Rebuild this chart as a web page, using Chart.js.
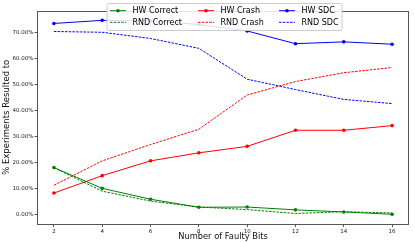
<!DOCTYPE html>
<html>
<head>
<meta charset="utf-8">
<script src="https://cdn.jsdelivr.net/npm/chart.js@4/dist/chart.umd.min.js"></script>
<style>
  html, body { margin: 0; padding: 0; background: #fff; }
  #wrap { width: 415px; height: 242px; }
</style>
</head>
<body>
<div id="wrap"><canvas id="c" width="415" height="242"></canvas></div>
<script>
// number of faulty bits
const bits = [2, 4, 6, 8, 10, 12, 14, 16];
const xTicks = [2, 4, 6, 8, 10, 12, 14, 16];
const yTicks = [0, 10, 20, 30, 40, 50, 60, 70];

// % of experiments
const hwCorrect  = [18.0, 10.0, 5.8, 2.7, 2.8, 1.7, 0.9, 0.0];
const rndCorrect = [18.0, 8.9, 5.1, 2.8, 1.8, 0.3, 1.0, 0.5];
const hwCrash    = [8.2, 14.9, 20.6, 23.7, 26.2, 32.4, 32.4, 34.2];
const rndCrash   = [11.2, 20.6, 26.9, 32.8, 46.0, 51.2, 54.6, 56.6];
const hwSdc      = [73.6, 74.8, 74.6, 73.2, 70.7, 65.8, 66.5, 65.6];
const rndSdc     = [70.5, 70.2, 67.8, 64.0, 52.1, 48.1, 44.3, 42.7];

const FONT = "'DejaVu Sans', sans-serif";

function series(label, values, color, dashed) {
    return {
        label: label,
        data: bits.map((b, i) => ({ x: b, y: values[i] })),
        borderColor: color,
        backgroundColor: color,
        borderWidth: 1,
        borderDash: dashed ? [2.5, 1.2] : [],
        pointRadius: dashed ? 0 : 1.8,
        pointStyle: 'circle',
        pointBorderWidth: 0,
        tension: 0,
        fill: false
    };
}

// legend drawn in matplotlib style: 3 columns x 2 rows
const mplLegend = {
    id: 'mplLegend',
    afterDraw(chart) {
        const ctx = chart.ctx;
        const ds = chart.data.datasets;
        const order = [[0, 1], [2, 3], [4, 5]];
        const colX = [110, 198, 279];
        const rowY = [10.7, 22.3];
        ctx.save();
        // box
        const bx = 107, by = 3.5, bw = 235, bh = 27, r = 2;
        ctx.beginPath();
        ctx.moveTo(bx + r, by);
        ctx.arcTo(bx + bw, by, bx + bw, by + bh, r);
        ctx.arcTo(bx + bw, by + bh, bx, by + bh, r);
        ctx.arcTo(bx, by + bh, bx, by, r);
        ctx.arcTo(bx, by, bx + bw, by, r);
        ctx.closePath();
        ctx.fillStyle = 'rgba(255,255,255,0.85)';
        ctx.fill();
        ctx.strokeStyle = '#cccccc';
        ctx.lineWidth = 1;
        ctx.stroke();
        ctx.font = '8px ' + FONT;
        ctx.textBaseline = 'middle';
        ctx.textAlign = 'left';
        order.forEach((col, ci) => {
            col.forEach((idx, ri) => {
                const d = ds[idx];
                const x = colX[ci], y = rowY[ri];
                ctx.strokeStyle = d.borderColor;
                ctx.lineWidth = 1;
                ctx.setLineDash(d.borderDash);
                ctx.beginPath();
                ctx.moveTo(x, y);
                ctx.lineTo(x + 16, y);
                ctx.stroke();
                ctx.setLineDash([]);
                if (d.pointRadius > 0) {
                    ctx.fillStyle = d.borderColor;
                    ctx.beginPath();
                    ctx.arc(x + 8, y, 1.8, 0, Math.PI * 2);
                    ctx.fill();
                }
                ctx.fillStyle = '#000';
                ctx.fillText(d.label, x + 22.5, y + 0.5);
            });
        });
        ctx.restore();
    }
};

// full frame around the plot
const frame = {
    id: 'frame',
    beforeDatasetsDraw(chart) {
        const a = chart.chartArea;
        const ctx = chart.ctx;
        ctx.save();
        ctx.strokeStyle = '#555';
        ctx.lineWidth = 1;
        ctx.strokeRect(Math.round(a.left) + 0.5, Math.round(a.top) + 0.5,
                       Math.round(a.right - a.left) - 1, Math.round(a.bottom - a.top) - 1);
        ctx.restore();
    }
};

new Chart(document.getElementById('c'), {
    type: 'line',
    data: {
        datasets: [
            series('HW Correct', hwCorrect, '#008000', false),
            series('RND Correct', rndCorrect, '#008000', true),
            series('HW Crash', hwCrash, '#ff0000', false),
            series('RND Crash', rndCrash, '#ff0000', true),
            series('HW SDC', hwSdc, '#0000ff', false),
            series('RND SDC', rndSdc, '#0000ff', true)
        ]
    },
    options: {
        responsive: false,
        animation: false,
        devicePixelRatio: 1,
        layout: { padding: { top: 10.5, right: 6, left: 0, bottom: 0 } },
        plugins: {
            legend: { display: false },
            tooltip: { enabled: false }
        },
        scales: {
            x: {
                type: 'linear',
                min: 1.3,
                max: 16.7,
                afterBuildTicks: s => { s.ticks = xTicks.map(v => ({ value: v })); },
                afterFit: s => { s.height = 18; },
                border: { display: false },
                grid: { drawOnChartArea: false, drawTicks: true, tickLength: 3, color: '#555' },
                ticks: {
                    autoSkip: false,
                    maxRotation: 0,
                    padding: 1,
                    color: '#222',
                    font: { family: FONT, size: 5.5 }
                },
                title: {
                    display: true,
                    text: 'Number of Faulty Bits',
                    color: '#111',
                    font: { family: FONT, size: 8.3 },
                    padding: { top: 0, bottom: 0 }
                }
            },
            y: {
                min: -3.75,
                max: 78.6,
                afterBuildTicks: s => { s.ticks = yTicks.map(v => ({ value: v })); },
                afterFit: s => { s.width = 37; },
                border: { display: false },
                grid: { drawOnChartArea: false, drawTicks: true, tickLength: 2.5, color: '#555' },
                ticks: {
                    autoSkip: false,
                    padding: 1,
                    color: '#222',
                    font: { family: FONT, size: 5.5 }
                    ,
                    callback: v => v.toFixed(2) + '%'
                },
                title: {
                    display: true,
                    text: '% Experiments Resulted to',
                    color: '#111',
                    font: { family: FONT, size: 8.5 },
                    padding: { top: 1.5, bottom: 0 }
                }
            }
        }
    },
    plugins: [frame, mplLegend]
});
</script>
</body>
</html>
